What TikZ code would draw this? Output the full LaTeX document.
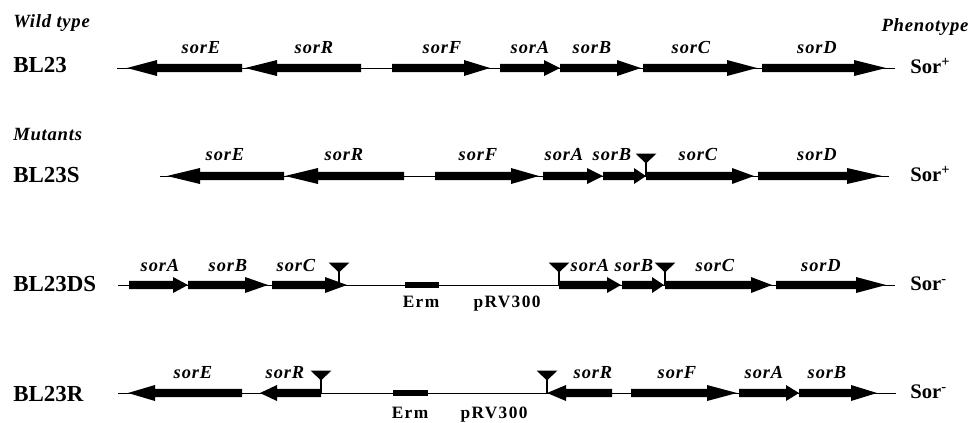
\documentclass[tikz,border=0pt]{standalone}
\usepackage{fontspec}
\setmainfont{Liberation Serif}

% gene drawn as a filled arrow: tail x, start of head x, tip x, y
\newcommand{\genearrow}[4]{%
  \fill (#1,#4-4.2) -- (#2,#4-4.2) -- (#2,#4-8) -- (#3,#4) -- (#2,#4+8) -- (#2,#4+4.2) -- (#1,#4+4.2) -- cycle;}
% insertion site marker: x, y of the backbone
\newcommand{\insertmark}[2]{%
  \fill (#1-10.5,#2-22.5) -- (#1+10.5,#2-22.5) -- (#1,#2-12.5) -- cycle;
  \draw[line width=1pt] (#1,#2-14) -- (#1,#2);}
% erythromycin resistance box: left x, right x, y
\newcommand{\ermbox}[3]{\fill (#1,#3-3.4) rectangle (#2,#3+3.4);}

\tikzset{
  backbone/.style={line width=0.75pt},
  genelbl/.style={anchor=base, inner sep=0pt,
    font=\fontsize{13.8}{15}\selectfont\bfseries\itshape\addfontfeatures{LetterSpace=5}},
  strain/.style={anchor=base west, inner sep=0pt,
    font=\fontsize{17.2}{19}\selectfont\bfseries},
  heading/.style={anchor=base west, inner sep=0pt,
    font=\fontsize{14}{16}\selectfont\bfseries\itshape\addfontfeatures{LetterSpace=4}},
  pheno/.style={anchor=base west, inner sep=0pt,
    font=\fontsize{15.5}{17}\selectfont\bfseries},
  plasmid/.style={anchor=base, inner sep=0pt,
    font=\fontsize{13}{15}\selectfont\bfseries\addfontfeatures{LetterSpace=8}}
}

\begin{document}
\begin{tikzpicture}[x={(0.75pt,0)}, y={(0,-0.75pt)}]
\useasboundingbox (0,0) rectangle (968,422);

% headings
\node[heading] (wt) at (13,27) {Wild type};
\node[heading] (mut) at (13,140) {Mutants};
\node[heading, anchor=base] (phen) at (925,31) {Phenotype};

% ---------------- BL23 ----------------
\node[strain] (s1) at (13,72) {BL23};
\draw[backbone] (117,68) -- (895,68);
\genearrow{242}{157}{127}{68}
\genearrow{361}{277}{245}{68}
\genearrow{392}{464}{490}{68}
\genearrow{500}{544}{560}{68}
\genearrow{560}{617}{641}{68}
\genearrow{643}{727}{757}{68}
\genearrow{762}{854}{886}{68}
\node[genelbl] (a1) at (201,53) {sorE};
\node[genelbl] (a2) at (314,53) {sorR};
\node[genelbl] (a3) at (442,53) {sorF};
\node[genelbl] (a4) at (530,53) {sorA};
\node[genelbl] (a5) at (592,53) {sorB};
\node[genelbl] (a6) at (691,53) {sorC};
\node[genelbl] (a7) at (817,53) {sorD};
\node[pheno] (p1) at (910,73) {Sor\textsuperscript{+}};

% ---------------- BL23S ----------------
\node[strain] (s2) at (13,182) {BL23S};
\draw[backbone] (160,176) -- (889,176);
\genearrow{284}{200}{167}{176}
\genearrow{404}{318}{285}{176}
\genearrow{435}{511}{539}{176}
\genearrow{543}{587}{603}{176}
\genearrow{603}{634}{646}{176}
\genearrow{646}{732}{754}{176}
\genearrow{758}{847}{882}{176}
\insertmark{646}{176}
\node[genelbl] (b1) at (225,160) {sorE};
\node[genelbl] (b2) at (344,160) {sorR};
\node[genelbl] (b3) at (478,160) {sorF};
\node[genelbl] (b4) at (564,160) {sorA};
\node[genelbl] (b5) at (612,160) {sorB};
\node[genelbl] (b6) at (698,160) {sorC};
\node[genelbl] (b7) at (817,160) {sorD};
\node[pheno] (p2) at (910,181) {Sor\textsuperscript{+}};

% ---------------- BL23DS ----------------
\node[strain] (s3) at (13,291) {BL23DS};
\draw[backbone] (118,285) -- (895,285);
\genearrow{129}{173}{188}{285}
\genearrow{188}{245}{268}{285}
\genearrow{272}{325}{347}{285}
\insertmark{339}{285}
\ermbox{405}{439}{285}
\insertmark{559}{285}
\genearrow{559}{607}{621}{285}
\genearrow{622}{652}{664}{285}
\insertmark{665}{285}
\genearrow{665}{751}{772}{285}
\genearrow{776}{856}{886}{285}
\node[genelbl] (c1) at (160,271) {sorA};
\node[genelbl] (c2) at (228,271) {sorB};
\node[genelbl] (c3) at (296,271) {sorC};
\node[genelbl] (c4) at (590,271) {sorA};
\node[genelbl] (c5) at (634,271) {sorB};
\node[genelbl] (c6) at (715,271) {sorC};
\node[genelbl] (c7) at (821,271) {sorD};
\node[plasmid] (e1) at (421,307) {Erm};
\node[plasmid] (v1) at (507,307) {pRV300};
\node[pheno] (p3) at (910,290) {Sor\textsuperscript{-}};

% ---------------- BL23R ----------------
\node[strain] (s4) at (13,401) {BL23R};
\draw[backbone] (118,393) -- (896,393);
\genearrow{242}{155}{128}{393}
\genearrow{321}{277}{260}{393}
\insertmark{321}{393}
\ermbox{393}{428}{393}
\insertmark{547}{393}
\genearrow{612}{566}{547}{393}
\genearrow{631}{707}{737}{393}
\genearrow{739}{786}{799}{393}
\genearrow{799}{851}{877}{393}
\node[genelbl] (d1) at (193,378) {sorE};
\node[genelbl] (d2) at (285,378) {sorR};
\node[genelbl] (d3) at (593,378) {sorR};
\node[genelbl] (d4) at (677,378) {sorF};
\node[genelbl] (d5) at (764,378) {sorA};
\node[genelbl] (d6) at (827,378) {sorB};
\node[plasmid] (e2) at (410,418) {Erm};
\node[plasmid] (v2) at (494,418) {pRV300};
\node[pheno] (p4) at (910,398) {Sor\textsuperscript{-}};
\end{tikzpicture}
\end{document}
